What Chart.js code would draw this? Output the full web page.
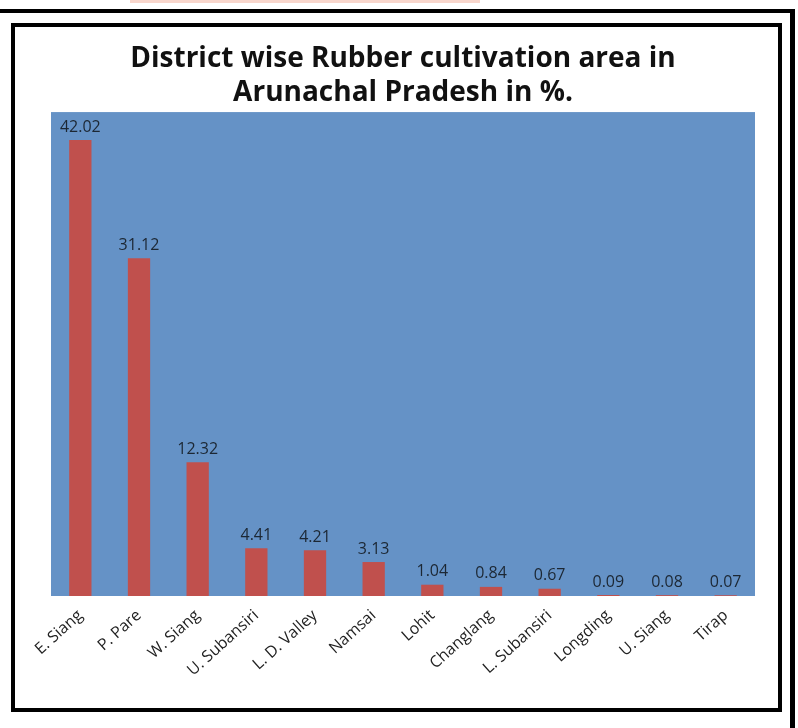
<!DOCTYPE html>
<html>
<head>
<meta charset="utf-8">
<script src="https://cdn.jsdelivr.net/npm/chart.js@4"></script>
<style>
  html, body { margin: 0; padding: 0; background: #fff; }
  #wrap { width: 798px; height: 728px; position: relative; }
</style>
</head>
<body>
<div id="wrap"><canvas id="rubberChart"></canvas></div>
<script>
// District names and share of rubber area (%)
const districts = ["E. Siang", "P. Pare", "W. Siang", "U. Subansiri", "L. D. Valley", "Namsai",
                   "Lohit", "Changlang", "L. Subansiri", "Longding", "U. Siang", "Tirap"];
const areaPct = [42.02, 31.12, 12.32, 4.41, 4.21, 3.13, 1.04, 0.84, 0.67, 0.09, 0.08, 0.07];
const titleLines = ["District wise Rubber cultivation area in", "Arunachal Pradesh in %."];

// frame lines + blue plot background
const framePlugin = {
    id: "frame",
    beforeDraw(chart) {
        const ctx = chart.ctx;
        const a = chart.chartArea;
        ctx.save();
        ctx.fillStyle = "#fff";
        ctx.fillRect(0, 0, chart.width, chart.height);
        // faint strip at the very top
        ctx.fillStyle = "#f8d6cc";
        ctx.fillRect(130, 0, 350, 3);
        // outer heavy lines
        ctx.fillStyle = "#000";
        ctx.fillRect(0, 9, 795, 4);
        ctx.fillRect(790, 9, 5, 719);
        // inner box
        ctx.strokeStyle = "#000";
        ctx.lineWidth = 4;
        ctx.strokeRect(13, 25, 767, 685);
        // plot area
        ctx.fillStyle = "#6592c6";
        ctx.fillRect(a.left, a.top, a.right - a.left, a.bottom - a.top);
        ctx.restore();
    }
};

// value labels above bars
const valueLabels = {
    id: "valueLabels",
    afterDatasetsDraw(chart) {
        const ctx = chart.ctx;
        const meta = chart.getDatasetMeta(0);
        ctx.save();
        ctx.font = "16px 'Open Sans'";
        ctx.fillStyle = "#1c2733";
        ctx.textAlign = "center";
        ctx.textBaseline = "bottom";
        meta.data.forEach(function (bar, i) {
            ctx.fillText(areaPct[i].toFixed(2), bar.x, bar.y - 5);
        });
        ctx.restore();
    }
};

const ctx = document.getElementById("rubberChart").getContext("2d");
const rubberChart = new Chart(ctx, {
    type: "bar",
    data: {
        labels: districts,
        datasets: [{
            label: "Area %",
            data: areaPct,
            backgroundColor: "#c0504d",
            borderWidth: 0,
            categoryPercentage: 1,
            barPercentage: 0.38
        }]
    },
    options: {
        responsive: true,
        maintainAspectRatio: false,
        animation: false,
        layout: {
            padding: { top: 43, left: 51, right: 43, bottom: 0 }
        },
        plugins: {
            legend: { display: false },
            tooltip: { enabled: false },
            title: {
                display: true,
                text: titleLines,
                color: "#111",
                font: { family: "'Open Sans'", size: 28, weight: "bold", lineHeight: 1.18 },
                padding: { top: 0, bottom: 3 }
            }
        },
        scales: {
            x: {
                grid: { display: false, drawTicks: false },
                border: { display: false },
                ticks: {
                    minRotation: 42,
                    maxRotation: 42,
                    padding: 10,
                    color: "#222",
                    font: { family: "'Open Sans'", size: 16 }
                },
                afterFit(scale) { scale.height = 132; }
            },
            y: {
                display: false,
                min: 0,
                max: 44.6
            }
        }
    },
    plugins: [framePlugin, valueLabels]
});
</script>
</body>
</html>
